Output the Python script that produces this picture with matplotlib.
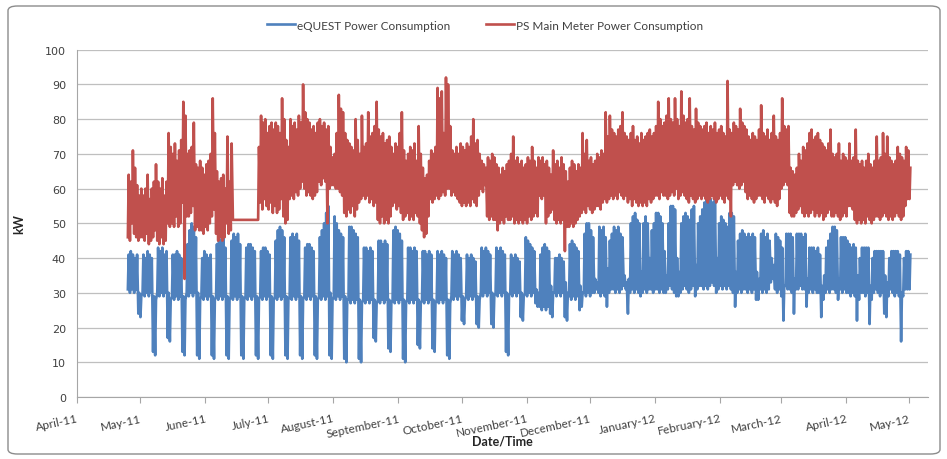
import matplotlib
matplotlib.use("Agg")
import matplotlib.pyplot as plt
import matplotlib.dates as mdates
from matplotlib.patches import FancyBboxPatch
import numpy as np
from datetime import datetime

# daily readings, first day Mon 25 April 2011; one row per week (Mon..Sun)
start = datetime(2011, 4, 25)

# eQUEST model: daily peak / daily minimum, kW
equest_hi = [
    41, 42, 41, 40, 41, 30, 29,
    41, 40, 42, 41, 40, 29, 28,
    43, 42, 43, 41, 42, 30, 28,
    41, 41, 42, 41, 40, 29, 28,
    44, 48, 50, 49, 46, 30, 28,
    40, 42, 41, 40, 41, 29, 28,
    44, 46, 45, 46, 43, 29, 28,
    45, 47, 46, 47, 44, 29, 28,
    43, 44, 44, 43, 42, 29, 28,
    42, 43, 43, 42, 41, 29, 28,
    45, 48, 49, 48, 46, 29, 28,
    46, 47, 46, 47, 45, 29, 28,
    43, 44, 44, 43, 42, 29, 28,
    46, 48, 50, 53, 55, 30, 28,
    52, 50, 48, 47, 46, 29, 28,
    49, 49, 48, 47, 46, 28, 27,
    43, 43, 42, 43, 42, 28, 27,
    45, 45, 44, 45, 44, 28, 27,
    48, 49, 48, 47, 45, 28, 27,
    43, 43, 42, 43, 42, 28, 27,
    42, 42, 41, 42, 41, 28, 27,
    42, 41, 42, 41, 40, 28, 27,
    42, 41, 42, 41, 40, 29, 28,
    41, 40, 41, 40, 39, 29, 28,
    43, 42, 43, 42, 41, 30, 29,
    43, 42, 43, 42, 41, 30, 29,
    41, 40, 41, 40, 39, 30, 29,
    46, 45, 44, 43, 42, 31, 30,
    41, 43, 44, 43, 42, 32, 30,
    40, 40, 41, 40, 39, 33, 30,
    44, 45, 44, 43, 42, 32, 30,
    47, 50, 50, 48, 46, 34, 33,
    49, 48, 49, 46, 37, 45, 47,
    49, 48, 49, 47, 46, 35, 33,
    34, 50, 52, 53, 51, 50, 36,
    50, 52, 50, 40, 48, 50, 53,
    53, 52, 50, 42, 35, 50, 55,
    55, 54, 40, 36, 50, 52, 53,
    52, 51, 54, 55, 38, 50, 52,
    54, 56, 57, 58, 57, 56, 58,
    40, 50, 52, 51, 50, 49, 53,
    53, 52, 36, 45, 47, 48, 47,
    46, 47, 46, 47, 46, 36, 34,
    47, 48, 46, 47, 45, 40, 38,
    47, 46, 45, 43, 32, 47, 47,
    47, 46, 34, 47, 47, 47, 46,
    47, 34, 43, 43, 43, 42, 43,
    41, 32, 35, 43, 45, 47, 49,
    49, 48, 34, 46, 46, 46, 45,
    44, 43, 44, 43, 35, 40, 43,
    43, 43, 43, 32, 40, 42, 42,
    42, 42, 42, 35, 33, 40, 42,
    42, 42, 42, 41, 30, 40, 42,
    42, 41,
]
equest_lo = [
    31, 30, 31, 30, 31, 24, 23,
    30, 29, 30, 29, 30, 13, 12,
    30, 29, 30, 29, 30, 17, 16,
    29, 28, 29, 28, 29, 13, 12,
    30, 29, 30, 29, 30, 12, 11,
    29, 28, 29, 28, 29, 12, 11,
    29, 28, 29, 28, 29, 12, 11,
    29, 28, 29, 28, 29, 12, 11,
    29, 28, 29, 28, 29, 12, 11,
    29, 28, 29, 28, 29, 12, 11,
    29, 28, 29, 28, 29, 12, 11,
    29, 28, 29, 28, 29, 12, 11,
    29, 28, 29, 28, 29, 12, 11,
    29, 28, 29, 28, 29, 12, 11,
    29, 28, 29, 28, 29, 11, 10,
    28, 27, 28, 27, 28, 11, 10,
    28, 27, 28, 27, 28, 17, 16,
    28, 27, 28, 27, 28, 14, 13,
    28, 27, 28, 27, 28, 11, 10,
    28, 27, 28, 27, 28, 15, 14,
    28, 27, 28, 27, 28, 14, 13,
    28, 27, 28, 27, 28, 12, 11,
    29, 28, 29, 28, 29, 22, 21,
    29, 28, 29, 28, 29, 21, 20,
    30, 29, 30, 29, 30, 21, 20,
    30, 29, 30, 29, 30, 13, 12,
    30, 29, 30, 29, 30, 23, 22,
    30, 29, 30, 29, 30, 27, 26,
    26, 25, 26, 25, 26, 24, 23,
    30, 29, 30, 29, 30, 23, 22,
    29, 28, 29, 28, 29, 25, 26,
    30, 29, 30, 29, 30, 30, 31,
    30, 29, 30, 29, 26, 30, 31,
    31, 30, 31, 30, 31, 32, 31,
    24, 30, 31, 30, 31, 30, 29,
    30, 31, 30, 31, 31, 30, 31,
    31, 30, 31, 30, 30, 31, 32,
    31, 30, 29, 29, 30, 31, 32,
    31, 30, 31, 32, 29, 31, 32,
    32, 31, 32, 31, 32, 33, 32,
    30, 31, 32, 31, 32, 31, 32,
    31, 30, 26, 30, 31, 30, 31,
    31, 30, 31, 30, 31, 28, 28,
    31, 30, 31, 30, 31, 33, 34,
    31, 30, 31, 29, 22, 32, 31,
    31, 30, 24, 31, 31, 32, 31,
    31, 26, 30, 31, 30, 31, 30,
    30, 23, 28, 30, 31, 30, 31,
    31, 30, 28, 31, 30, 31, 30,
    30, 29, 30, 29, 22, 28, 30,
    30, 29, 30, 21, 28, 30, 31,
    30, 29, 30, 24, 23, 29, 31,
    30, 29, 30, 29, 16, 29, 31,
    31, 31,
]

# PS main meter: daily peak / daily minimum, kW (flat 51 where the meter was not logging)
meter_hi = [
    64, 62, 71, 66, 61, 58, 60,
    58, 60, 64, 57, 60, 62, 67,
    62, 60, 63, 58, 62, 76, 72,
    70, 73, 68, 71, 74, 85, 81,
    70, 71, 72, 79, 67, 66, 68,
    66, 64, 67, 68, 70, 86, 76,
    65, 62, 63, 64, 60, 75, 62,
    73, 51, 51, 51, 51, 51, 51,
    51, 51, 51, 51, 51, 51, 72,
    81, 79, 80, 76, 78, 79, 77,
    79, 78, 76, 86, 80, 74, 72,
    80, 78, 79, 77, 81, 79, 90,
    82, 80, 79, 77, 78, 76, 79,
    80, 78, 79, 77, 78, 72, 69,
    70, 76, 87, 83, 82, 76, 74,
    73, 72, 71, 80, 74, 70, 81,
    72, 73, 82, 75, 76, 78, 85,
    77, 75, 76, 73, 74, 75, 72,
    70, 73, 72, 76, 82, 71, 68,
    70, 72, 71, 73, 68, 78, 70,
    66, 63, 64, 68, 71, 70, 72,
    89, 86, 88, 76, 92, 90, 78,
    71, 70, 72, 70, 73, 72, 71,
    73, 72, 75, 80, 73, 74, 70,
    68, 67, 66, 69, 68, 70, 69,
    67, 66, 64, 66, 65, 67, 68,
    70, 75, 68, 69, 67, 68, 66,
    67, 69, 68, 72, 68, 66, 69,
    68, 69, 67, 68, 66, 64, 71,
    67, 68, 66, 69, 67, 65, 62,
    66, 68, 67, 65, 67, 66, 76,
    70, 74, 68, 69, 67, 68, 70,
    69, 71, 70, 82, 75, 81, 77,
    76, 75, 77, 78, 82, 76, 75,
    74, 76, 78, 74, 75, 73, 76,
    74, 75, 76, 77, 75, 76, 78,
    85, 80, 78, 79, 81, 86, 80,
    79, 86, 80, 78, 88, 81, 79,
    80, 86, 78, 77, 83, 79, 78,
    77, 78, 79, 76, 78, 77, 79,
    76, 77, 78, 76, 75, 91, 77,
    76, 79, 78, 77, 83, 79, 78,
    77, 75, 74, 76, 75, 74, 77,
    84, 76, 75, 77, 74, 76, 81,
    75, 74, 76, 86, 78, 77, 78,
    66, 65, 64, 66, 70, 68, 72,
    71, 73, 76, 77, 74, 75, 76,
    74, 73, 72, 71, 73, 77, 70,
    69, 70, 73, 68, 70, 69, 68,
    73, 68, 69, 77, 68, 67, 68,
    66, 68, 70, 67, 66, 68, 75,
    68, 69, 76, 70, 75, 69, 68,
    67, 68, 72, 70, 69, 68, 72,
    71, 66,
]
meter_lo = [
    46, 45, 50, 47, 46, 45, 46,
    46, 45, 47, 44, 45, 46, 48,
    45, 44, 46, 44, 45, 50, 49,
    50, 49, 52, 49, 50, 56, 34,
    52, 52, 53, 55, 48, 49, 48,
    48, 47, 49, 48, 50, 52, 54,
    47, 45, 46, 45, 46, 50, 47,
    48, 51, 51, 51, 51, 51, 51,
    51, 51, 51, 51, 51, 51, 51,
    56, 54, 57, 55, 54, 56, 53,
    55, 53, 54, 57, 52, 50, 51,
    57, 58, 57, 59, 58, 60, 62,
    60, 58, 59, 58, 57, 58, 59,
    62, 61, 63, 62, 50, 60, 61,
    61, 60, 60, 59, 58, 53, 52,
    54, 53, 55, 52, 54, 56, 57,
    58, 57, 58, 56, 57, 55, 56,
    51, 50, 52, 50, 51, 50, 52,
    55, 56, 54, 55, 53, 51, 52,
    53, 51, 52, 51, 53, 52, 50,
    48, 46, 47, 52, 57, 56, 57,
    58, 57, 58, 59, 58, 60, 60,
    58, 59, 58, 57, 56, 55, 56,
    55, 56, 55, 57, 56, 55, 58,
    60, 59, 61, 52, 51, 52, 51,
    51, 48, 50, 51, 50, 52, 51,
    51, 52, 50, 51, 50, 51, 50,
    51, 50, 52, 51, 52, 53, 52,
    58, 57, 58, 50, 52, 53, 54,
    51, 50, 51, 50, 51, 42, 49,
    49, 50, 49, 50, 51, 52, 53,
    54, 53, 55, 54, 53, 54, 55,
    55, 54, 56, 57, 56, 57, 58,
    57, 58, 57, 59, 58, 57, 58,
    56, 57, 55, 57, 56, 55, 56,
    55, 56, 55, 57, 56, 57, 58,
    58, 57, 59, 58, 58, 57, 58,
    59, 58, 60, 57, 58, 59, 58,
    57, 56, 58, 57, 56, 57, 58,
    57, 58, 57, 56, 57, 58, 57,
    56, 57, 58, 57, 56, 58, 57,
    52, 61, 62, 61, 60, 61, 62,
    59, 57, 58, 57, 56, 57, 58,
    58, 57, 56, 58, 57, 56, 57,
    56, 55, 57, 60, 61, 62, 61,
    53, 52, 52, 53, 54, 55, 53,
    52, 53, 52, 53, 54, 52, 53,
    52, 53, 51, 52, 53, 54, 52,
    52, 53, 52, 51, 52, 53, 52,
    55, 55, 54, 51, 50, 51, 50,
    51, 50, 52, 51, 50, 51, 52,
    52, 51, 52, 53, 52, 51, 52,
    51, 52, 53, 52, 51, 52, 55,
    57, 57,
]

months = [datetime(2011 + (3 + m) // 12, (3 + m) % 12 + 1, 1) for m in range(14)]
month_labels = [d.strftime("%B-%y") for d in months]


def day_trace(hi, lo):
    # night low then afternoon peak for every day
    t0 = mdates.date2num(start)
    n = len(hi)
    t = np.empty(2 * n)
    v = np.empty(2 * n)
    t[0::2] = t0 + np.arange(n) + 0.2
    t[1::2] = t0 + np.arange(n) + 0.6
    v[0::2] = lo
    v[1::2] = hi
    return t, v


fig = plt.figure(figsize=(9.47, 4.6), dpi=100)
ax = fig.add_axes([77 / 947, 1 - 398 / 460, (928 - 77) / 947, (398 - 50.7) / 460])

t, v = day_trace(equest_hi, equest_lo)
ax.plot(t, v, color="#4F81BD", lw=1.9, label="eQUEST Power Consumption")
t, v = day_trace(meter_hi, meter_lo)
ax.plot(t, v, color="#C0504D", lw=1.9, label="PS Main Meter Power Consumption")

ax.set_ylim(0, 100)
ax.set_yticks(range(0, 101, 10))
ax.set_xlim(mdates.date2num(datetime(2011, 4, 1)), mdates.date2num(datetime(2012, 5, 10)))
ax.set_xticks(mdates.date2num(months))
ax.set_xticklabels(month_labels, rotation=12, ha="right", rotation_mode="anchor",
                   family="Lato", fontsize=8.5, color="#404040")
for lab in ax.get_yticklabels():
    lab.set_family("DejaVu Sans")
    lab.set_fontsize(8)
    lab.set_color("#404040")

ax.grid(axis="y", color="#BFBFBF", lw=0.9)
ax.set_axisbelow(True)
for s in ("top", "right"):
    ax.spines[s].set_visible(False)
ax.spines["left"].set_color("#A6A6A6")
ax.spines["bottom"].set_color("#A6A6A6")
ax.tick_params(axis="y", length=0, pad=8)
ax.tick_params(axis="x", length=4, direction="out", color="#A6A6A6", pad=7)

ax.set_xlabel("Date/Time", family="Lato", fontweight="bold", fontsize=9, color="#262626", labelpad=-3)
ax.set_ylabel("kW", family="Lato", fontweight="bold", fontsize=9, color="#262626", labelpad=14)

fig.legend(loc="center", bbox_to_anchor=(485 / 947, 1 - 26 / 460), ncol=2, frameon=False,
           prop={"family": "Lato", "size": 8.5}, labelcolor="#404040",
           handlelength=2.4, handletextpad=0.15, columnspacing=3.0)

fig.patches.append(FancyBboxPatch((8 / 947, 5 / 460), 932 / 947, 448 / 460,
                                  boxstyle="round,pad=0,rounding_size=0.01",
                                  transform=fig.transFigure, fill=False,
                                  edgecolor="#8C8C8C", lw=1.0))

fig.savefig("out.png", dpi=100)
